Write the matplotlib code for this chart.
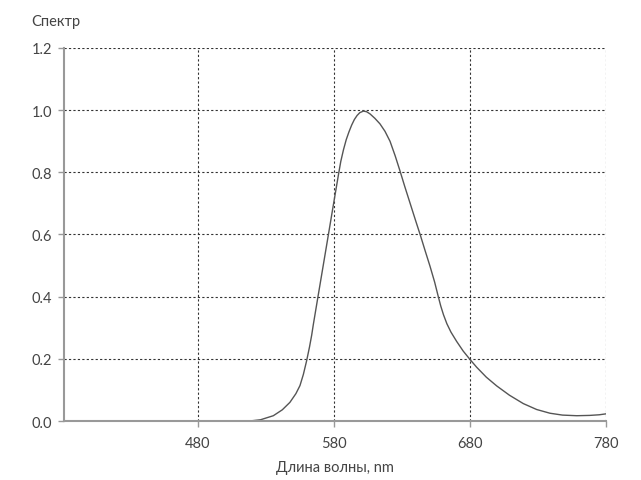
import matplotlib
matplotlib.use("Agg")
import matplotlib.pyplot as plt

plt.rcParams['font.family'] = ['Lato', 'DejaVu Sans']

wavelength = [518, 526, 535.4, 542, 547.6, 552, 555, 557.5, 559.9, 562, 563.6, 564.8, 567.7, 571.5, 575.8, 579.5, 583.2,
              585, 587, 589, 591, 593, 595, 597, 599, 601.6, 604, 606.5, 610, 613.8, 617.5, 621.2, 625, 628.5,
              632, 636, 640, 643.7, 647, 650.6, 654, 656.7, 658.5, 660.5, 663, 666, 670.2, 675, 680, 684.9, 692,
              699.6, 709, 719.2, 729, 738.8, 748, 758.5, 768, 775, 780]
spectrum = [0.0, 0.004, 0.017, 0.036, 0.060, 0.088, 0.114, 0.150, 0.194, 0.238, 0.276, 0.31, 0.386, 0.485, 0.597, 0.694, 0.79,
            0.835, 0.873, 0.905, 0.930, 0.952, 0.970, 0.983, 0.992, 0.997, 0.995, 0.988, 0.974, 0.956, 0.932, 0.900, 0.853, 0.805,
            0.755, 0.700, 0.645, 0.595, 0.548, 0.498, 0.447, 0.400, 0.370, 0.342, 0.313, 0.286, 0.256, 0.225, 0.198, 0.173, 0.141,
            0.113, 0.083, 0.056, 0.037, 0.025, 0.019, 0.017, 0.018, 0.020, 0.023]

xticks = [480, 580, 680, 780]
yticks = [0.0, 0.2, 0.4, 0.6, 0.8, 1.0, 1.2]

fig = plt.figure(figsize=(6.41, 4.81), dpi=100)
ax = fig.add_axes([64/641, 1-422/481, (606-64)/641, (422-49)/481])

ax.plot(wavelength, spectrum, color='#555555', lw=1.0, solid_joinstyle='round')

ax.set_xlim(381.5, 780)
ax.set_ylim(0, 1.2)
ax.set_xticks(xticks)
ax.set_yticks(yticks)
ax.set_yticklabels([f"{v:.1f}" for v in yticks])
ax.grid(True, linestyle=(0, (2, 2)), color='#333333', lw=0.8)
for s in ['top', 'right']:
    ax.spines[s].set_visible(False)
for s in ['left', 'bottom']:
    ax.spines[s].set_color('#999999')
    ax.spines[s].set_linewidth(1.5)
ax.tick_params(axis='both', colors='#999999', labelcolor='#444444', labelsize=10.5, width=1, length=4)
ax.tick_params(axis='x', pad=7)
ax.tick_params(axis='y', pad=19.5)
for lab in ax.get_yticklabels():
    lab.set_horizontalalignment('left')

ax.set_xlabel("Длина волны, nm", color='#444444', fontsize=10.5, labelpad=7)
fig.text(31/641, 1-22/481, "Спектр", color='#444444', fontsize=10.5, va='center', ha='left')

fig.savefig("out.png", dpi=100)
